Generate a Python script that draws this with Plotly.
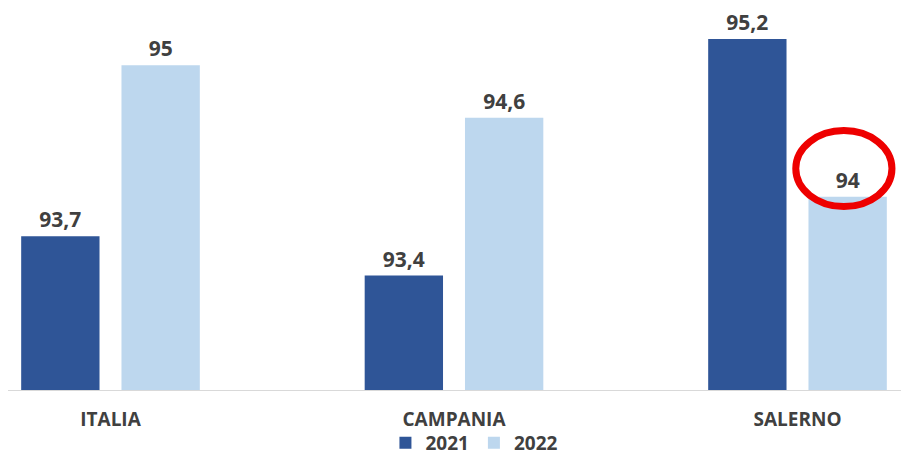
import plotly.graph_objects as go

categories = ["ITALIA", "CAMPANIA", "SALERNO"]
series_names = ["2021", "2022"]
values_2021 = [93.7, 93.4, 95.2]
values_2022 = [95.0, 94.6, 94.0]

colors = ["#2F5597", "#BDD7EE"]
text_color = "#404040"
font_family = "Open Sans"


def fmt(v):
    s = f"{v:g}"
    return s.replace(".", ",")


fig = go.Figure()
for name, vals, col in zip(series_names, [values_2021, values_2022], colors):
    fig.add_trace(go.Bar(
        x=categories, y=vals, name=name,
        marker=dict(color=col, line=dict(width=0)),
        text=[fmt(v) for v in vals], textposition="outside",
        textfont=dict(family=font_family, size=21, color=text_color, weight="bold"),
        cliponaxis=False,
    ))

# highlight ellipse around SALERNO 2022 label
fig.add_shape(type="circle", xref="x", yref="y",
              x0=1.995, x1=2.275, y0=93.925, y1=94.503,
              line=dict(color="#EE0000", width=7), layer="above")

fig.update_layout(
    width=901, height=447,
    margin=dict(l=0, r=4, t=2, b=65, autoexpand=False),
    paper_bgcolor="white", plot_bgcolor="white",
    barmode="group", bargap=0.416, bargroupgap=0.219,
    showlegend=True,
    legend=dict(orientation="h", x=0.52, xanchor="center", y=-0.139, yanchor="middle",
                bgcolor="rgba(0,0,0,0)",
                font=dict(family=font_family, size=19, color=text_color, weight="bold"),
                itemwidth=30, tracegroupgap=0),
    xaxis=dict(range=[-0.2984, -0.2984 + 897 / 343.5], showline=True,
               linecolor="#D9D9D9", linewidth=1,
               ticks="", ticklabelstandoff=12,
               tickfont=dict(family=font_family, size=19, color=text_color, weight="bold"),
               showgrid=False, zeroline=False, fixedrange=True),
    yaxis=dict(range=[92.53, 92.53 + 380 / 131.5], visible=False, showgrid=False,
               zeroline=False),
)

fig.write_html("out.html")
